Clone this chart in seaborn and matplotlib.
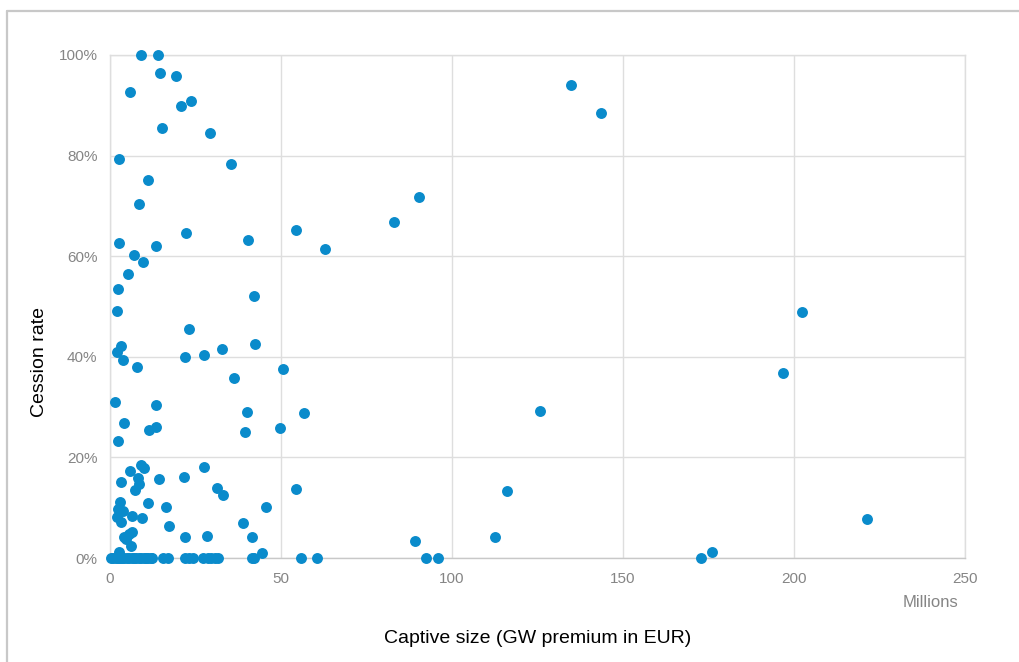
import matplotlib
matplotlib.use("Agg")
import matplotlib.pyplot as plt
from matplotlib.lines import Line2D
from matplotlib.ticker import PercentFormatter
import pandas as pd
import seaborn as sns

# captive size in millions EUR, cession rate as fraction
captive_size = [
    # upper cluster
    9.0, 14.0, 14.7, 19.3, 5.9, 23.6, 20.7, 15.2, 29.3, 2.7, 35.3, 11.2, 8.4,
    2.5, 22.2, 40.4, 54.5, 63.0, 13.3, 7.0, 9.5, 5.2, 2.2, 42.0, 2.0,
    23.0, 3.2, 2.1, 42.5, 32.8, 27.5, 22.0, 3.9, 7.9, 36.1, 50.5,
    1.5, 13.4, 40.1, 56.6, 4.2, 13.4, 11.4, 39.5, 49.8, 2.4,
    # below 20%
    9.0, 10.0, 5.8, 27.5, 21.6, 14.2, 8.1, 3.3, 8.5, 7.4, 31.2, 33.1, 54.4,
    3.0, 11.1, 16.4, 45.6, 2.2, 3.9, 6.3, 2.1, 3.2, 9.2, 17.3,
    6.3, 5.4, 4.2, 4.8, 6.1, 21.8, 28.3, 39.0, 41.4, 2.6, 44.4,
    89.3, 112.6, 116.0, 176.1, 221.3,
    # far right
    134.8, 143.6, 90.4, 83.0, 125.7, 196.8, 202.3,
    # zero row
    0.3, 1.0, 1.6, 2.2, 2.9, 3.5, 4.2, 4.9, 5.6, 6.3, 7.0, 7.7, 8.4, 9.1,
    9.8, 10.5, 11.2, 11.9, 12.4, 15.4, 17.0, 21.9, 23.2, 24.4, 27.3, 28.5,
    29.6, 30.7, 31.7, 41.6, 42.2, 55.8, 60.4, 92.3, 95.9, 172.7,
]
cession_rate = [
    1.000, 1.000, 0.964, 0.958, 0.926, 0.909, 0.899, 0.854, 0.844, 0.793, 0.784, 0.751, 0.704,
    0.626, 0.646, 0.633, 0.652, 0.615, 0.620, 0.603, 0.588, 0.565, 0.535, 0.521, 0.492,
    0.455, 0.421, 0.410, 0.426, 0.415, 0.404, 0.400, 0.394, 0.380, 0.358, 0.376,
    0.310, 0.304, 0.290, 0.288, 0.268, 0.260, 0.255, 0.251, 0.259, 0.232,
    0.185, 0.180, 0.174, 0.181, 0.162, 0.158, 0.160, 0.152, 0.147, 0.135, 0.140, 0.125, 0.138,
    0.111, 0.109, 0.102, 0.101, 0.097, 0.094, 0.084, 0.081, 0.072, 0.079, 0.064,
    0.052, 0.047, 0.041, 0.038, 0.023, 0.041, 0.043, 0.069, 0.042, 0.013, 0.011,
    0.034, 0.041, 0.134, 0.012, 0.078,
    0.940, 0.885, 0.718, 0.668, 0.292, 0.368, 0.489,
    0.0, 0.0, 0.0, 0.0, 0.0, 0.0, 0.0, 0.0, 0.0, 0.0, 0.0, 0.0, 0.0, 0.0,
    0.0, 0.0, 0.0, 0.0, 0.0, 0.0, 0.0, 0.0, 0.0, 0.0, 0.0, 0.0,
    0.0, 0.0, 0.0, 0.0, 0.0, 0.0, 0.0, 0.0, 0.0, 0.0,
]

x_ticks = [0, 50, 100, 150, 200, 250]
y_ticks = [0, 0.2, 0.4, 0.6, 0.8, 1.0]

DOT_COLOR = "#0a8bcb"
GRID_COLOR = "#dedede"
TICK_COLOR = "#858585"

sns.set_style("whitegrid")
plt.rcParams["font.family"] = ["Liberation Sans", "DejaVu Sans"]

df = pd.DataFrame({"size": captive_size, "rate": cession_rate})

fig = plt.figure(figsize=(10.19, 6.62), dpi=100)
ax = fig.add_axes([0.108, 0.157, 0.839, 0.760])

sns.scatterplot(data=df, x="size", y="rate", ax=ax, color=DOT_COLOR,
                s=62, linewidth=0, clip_on=False, zorder=3)

ax.set_xlim(0, 250)
ax.set_ylim(0, 1)
ax.set_xticks(x_ticks)
ax.set_yticks(y_ticks)
ax.yaxis.set_major_formatter(PercentFormatter(1.0, decimals=0))
ax.grid(True, color=GRID_COLOR, linewidth=1)
for name, spine in ax.spines.items():
    spine.set_color(GRID_COLOR)
    spine.set_linewidth(1)
ax.spines["bottom"].set_color("#c8c8c8")
ax.tick_params(axis="x", length=0, labelsize=11, colors=TICK_COLOR, pad=10)
ax.tick_params(axis="y", length=0, labelsize=11, colors=TICK_COLOR, pad=9)

ax.set_xlabel("Captive size (GW premium in EUR)", fontsize=14, color="black")
ax.xaxis.set_label_coords(0.5, -0.143)
ax.set_ylabel("Cession rate", fontsize=14, color="black")
ax.yaxis.set_label_coords(-0.072, 0.39)
ax.text(0.992, -0.089, "Millions", transform=ax.transAxes, ha="right", va="center",
        fontsize=12, color=TICK_COLOR)

# outer frame (top and left only, as in the source image)
fig.add_artist(Line2D([0.007, 0.007], [0.0, 0.983], color="#c8c8c8", linewidth=1.6,
                      transform=fig.transFigure))
fig.add_artist(Line2D([0.007, 1.0], [0.983, 0.983], color="#c8c8c8", linewidth=1.6,
                      transform=fig.transFigure))

fig.savefig("out.png", dpi=100)
plt.close(fig)
